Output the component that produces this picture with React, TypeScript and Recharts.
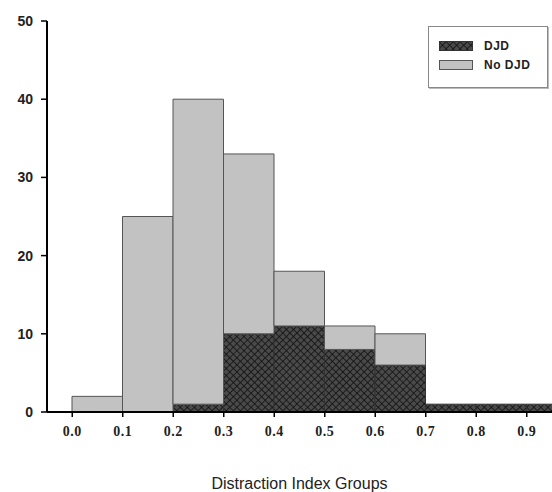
import React from 'react'
import { BarChart, Bar, XAxis, YAxis, Rectangle } from 'recharts'

// Histogram of distraction index, stacked DJD / No DJD
const binStart = [0.0, 0.1, 0.2, 0.3, 0.4, 0.5, 0.6, 0.7, 0.8, 0.9]
const djdCounts = [0, 0, 1, 10, 11, 8, 6, 1, 1, 1]
const noDjdCounts = [2, 25, 39, 23, 7, 3, 4, 0, 0, 0]
const xTicks = [0.0, 0.1, 0.2, 0.3, 0.4, 0.5, 0.6, 0.7, 0.8, 0.9]
const yTicks = [0, 10, 20, 30, 40, 50]

const data = binStart.map((start, i) => ({
  mid: +(start + 0.05).toFixed(2),
  djd: djdCounts[i],
  noDjd: noDjdCounts[i],
}))

const LIGHT = '#c2c2c2'
const PLOT_W = 505
const BIN_PX = PLOT_W * 0.1 // one bin is 0.1 of the 1.0 wide domain

// recharts squeezes bars on a number axis, so widen each one to the full bin
const binShape = (props: any) => {
  const cx = props.x + props.width / 2
  return <Rectangle {...props} x={cx - BIN_PX / 2} width={BIN_PX} />
}

function HatchPattern({ id }: { id: string }) {
  return (
    <pattern id={id} width="5" height="5" patternUnits="userSpaceOnUse" patternTransform="rotate(45)">
      <rect width="5" height="5" fill="#4a4a4a" />
      <line x1="0" y1="0" x2="0" y2="5" stroke="#111" strokeWidth="1.6" />
      <line x1="0" y1="0" x2="5" y2="0" stroke="#111" strokeWidth="1.6" />
    </pattern>
  )
}

function LegendBox() {
  const row = { display: 'flex', alignItems: 'center', height: 19 }
  return (
    <div
      style={{
        position: 'absolute',
        left: 428,
        top: 26,
        width: 120,
        height: 62,
        border: '1px solid #888',
        boxShadow: '1px 1px 0 #bbb',
        boxSizing: 'border-box',
        padding: '9px 0 0 10px',
        background: '#fff',
        fontFamily: 'Liberation Sans, Arial, sans-serif',
        fontWeight: 'bold',
        fontSize: 12,
        letterSpacing: 0.5,
        color: '#222',
      }}
    >
      <div style={row}>
        <svg width={34} height={10} style={{ marginRight: 11 }}>
          <defs>
            <HatchPattern id="hatch-legend" />
          </defs>
          <rect x={0.5} y={0.5} width={33} height={9} fill="url(#hatch-legend)" stroke="#333" />
        </svg>
        DJD
      </div>
      <div style={row}>
        <svg width={34} height={10} style={{ marginRight: 11 }}>
          <rect x={0.5} y={0.5} width={33} height={9} fill={LIGHT} stroke="#555" />
        </svg>
        No DJD
      </div>
    </div>
  )
}

export default function App() {
  return (
    <div style={{ position: 'absolute', left: 0, top: 0, width: 552, height: 492, background: '#fff' }}>
      <BarChart
        width={552}
        height={492}
        data={data}
        margin={{ top: 21, right: 0, bottom: 0, left: 0 }}
        barCategoryGap={0}
      >
        <defs>
          <HatchPattern id="hatch" />
        </defs>
        <XAxis
          dataKey="mid"
          type="number"
          domain={[-0.05, 0.95]}
          allowDataOverflow
          ticks={xTicks}
          tickFormatter={(v: number) => v.toFixed(1)}
          interval={0}
          height={80}
          axisLine={{ stroke: '#000', strokeWidth: 2 }}
          tickLine={{ stroke: '#000', strokeWidth: 1.5 }}
          tickSize={5}
          tick={{
            fill: '#222',
            fontSize: 14,
            fontWeight: 'bold',
            fontFamily: 'Liberation Serif, serif',
            letterSpacing: 0.5,
            dy: 7,
          }}
          label={{
            value: 'Distraction Index Groups',
            position: 'insideBottom',
            offset: 3,
            fill: '#222',
            fontSize: 16,
            fontFamily: 'Liberation Sans, Arial, sans-serif',
          }}
        />
        <YAxis
          domain={[0, 50]}
          ticks={yTicks}
          width={47}
          axisLine={{ stroke: '#000', strokeWidth: 2 }}
          tickLine={{ stroke: '#000', strokeWidth: 1.5 }}
          tickSize={6}
          tick={{
            fill: '#222',
            fontSize: 14,
            fontWeight: 'bold',
            fontFamily: 'Liberation Sans, Arial, sans-serif',
            dx: -6,
          }}
        />
        <Bar
          dataKey="djd"
          name="DJD"
          stackId="a"
          fill="url(#hatch)"
          stroke="#333"
          strokeWidth={1}
          shape={binShape}
          isAnimationActive={false}
        />
        <Bar
          dataKey="noDjd"
          name="No DJD"
          stackId="a"
          fill={LIGHT}
          stroke="#555"
          strokeWidth={1}
          shape={binShape}
          isAnimationActive={false}
        />
      </BarChart>
      <LegendBox />
    </div>
  )
}
